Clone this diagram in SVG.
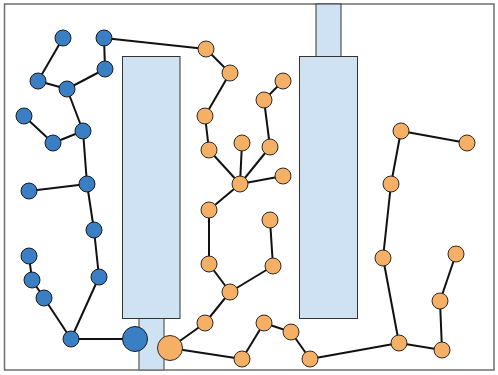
<svg xmlns="http://www.w3.org/2000/svg" width="498" height="375" viewBox="0 0 498 375">
<style>
.frame{fill:#fff;stroke:#6e6e6e;stroke-width:1.5}
.wall{fill:#cfe2f3;stroke:#333;stroke-width:1}
.wall2{fill:#cfe2f3;stroke:#777;stroke-width:1.5}
.e{stroke:#111;stroke-width:2;fill:none}
.b{fill:#3a7fc4;stroke:#1a1a1a;stroke-width:1}
.o{fill:#f5b066;stroke:#2a2a2a;stroke-width:1}
</style>
<rect class="frame" x="4.5" y="4" width="489.5" height="366"/>
<g id="walls">
<rect class="wall2" x="139" y="318" width="25" height="52"/>
<rect class="wall" x="122.5" y="56.5" width="57.5" height="262"/>
<rect class="wall" x="316" y="4" width="25" height="52.5"/>
<rect class="wall" x="299.5" y="56.5" width="58" height="262"/>
</g>
<g id="connectors" class="e">
<line x1="63" y1="38" x2="38" y2="81"/>
<line x1="38" y1="81" x2="67" y2="89"/>
<line x1="67" y1="89" x2="105" y2="69"/>
<line x1="105" y1="69" x2="104" y2="38"/>
<line x1="104" y1="38" x2="206" y2="49"/>
<line x1="67" y1="89" x2="83" y2="131"/>
<line x1="24" y1="116" x2="53" y2="143"/>
<line x1="53" y1="143" x2="83" y2="131"/>
<line x1="83" y1="131" x2="87" y2="184"/>
<line x1="87" y1="184" x2="29" y2="191"/>
<line x1="87" y1="184" x2="94" y2="230"/>
<line x1="94" y1="230" x2="99" y2="277"/>
<line x1="99" y1="277" x2="71" y2="339"/>
<line x1="29" y1="256" x2="32" y2="280"/>
<line x1="32" y1="280" x2="44" y2="298"/>
<line x1="44" y1="298" x2="71" y2="339"/>
<line x1="71" y1="339" x2="135" y2="339"/>
<line x1="206" y1="49" x2="230" y2="73"/>
<line x1="230" y1="73" x2="205" y2="116"/>
<line x1="205" y1="116" x2="209" y2="150"/>
<line x1="209" y1="150" x2="240" y2="184"/>
<line x1="242" y1="143" x2="240" y2="184"/>
<line x1="283" y1="81" x2="264" y2="100"/>
<line x1="264" y1="100" x2="270" y2="147"/>
<line x1="270" y1="147" x2="240" y2="184"/>
<line x1="283" y1="176" x2="240" y2="184"/>
<line x1="240" y1="184" x2="209" y2="210"/>
<line x1="209" y1="210" x2="209" y2="264"/>
<line x1="209" y1="264" x2="230" y2="292"/>
<line x1="270" y1="220" x2="273" y2="266"/>
<line x1="273" y1="266" x2="230" y2="292"/>
<line x1="230" y1="292" x2="205" y2="323"/>
<line x1="205" y1="323" x2="170" y2="348"/>
<line x1="170" y1="348" x2="242" y2="359"/>
<line x1="242" y1="359" x2="264" y2="323"/>
<line x1="264" y1="323" x2="291" y2="332"/>
<line x1="291" y1="332" x2="310" y2="359"/>
<line x1="310" y1="359" x2="399" y2="343"/>
<line x1="399" y1="343" x2="383" y2="258"/>
<line x1="383" y1="258" x2="391" y2="184"/>
<line x1="391" y1="184" x2="401" y2="131"/>
<line x1="401" y1="131" x2="467" y2="143"/>
<line x1="399" y1="343" x2="442" y2="350"/>
<line x1="442" y1="350" x2="440" y2="301"/>
<line x1="440" y1="301" x2="456" y2="254"/>
</g>
<g id="b1"><circle class="b" cx="63" cy="38" r="8"/></g>
<g id="b2"><circle class="b" cx="104" cy="38" r="8"/></g>
<g id="b3"><circle class="b" cx="105" cy="69" r="8"/></g>
<g id="b4"><circle class="b" cx="38" cy="81" r="8"/></g>
<g id="b5"><circle class="b" cx="67" cy="89" r="8"/></g>
<g id="b6"><circle class="b" cx="24" cy="116" r="8"/></g>
<g id="b7"><circle class="b" cx="53" cy="143" r="8"/></g>
<g id="b8"><circle class="b" cx="83" cy="131" r="8"/></g>
<g id="b9"><circle class="b" cx="87" cy="184" r="8"/></g>
<g id="b10"><circle class="b" cx="29" cy="191" r="8"/></g>
<g id="b11"><circle class="b" cx="94" cy="230" r="8"/></g>
<g id="b12"><circle class="b" cx="99" cy="277" r="8"/></g>
<g id="b13"><circle class="b" cx="29" cy="256" r="8"/></g>
<g id="b14"><circle class="b" cx="32" cy="280" r="8"/></g>
<g id="b15"><circle class="b" cx="44" cy="298" r="8"/></g>
<g id="b16"><circle class="b" cx="71" cy="339" r="8"/></g>
<g id="b17"><circle class="b" cx="135" cy="339" r="12.5"/></g>
<g id="o1"><circle class="o" cx="206" cy="49" r="8"/></g>
<g id="o2"><circle class="o" cx="230" cy="73" r="8"/></g>
<g id="o3"><circle class="o" cx="205" cy="116" r="8"/></g>
<g id="o4"><circle class="o" cx="209" cy="150" r="8"/></g>
<g id="o5"><circle class="o" cx="242" cy="143" r="8"/></g>
<g id="o6"><circle class="o" cx="283" cy="81" r="8"/></g>
<g id="o7"><circle class="o" cx="264" cy="100" r="8"/></g>
<g id="o8"><circle class="o" cx="270" cy="147" r="8"/></g>
<g id="o9"><circle class="o" cx="240" cy="184" r="8"/></g>
<g id="o10"><circle class="o" cx="283" cy="176" r="8"/></g>
<g id="o11"><circle class="o" cx="209" cy="210" r="8"/></g>
<g id="o12"><circle class="o" cx="209" cy="264" r="8"/></g>
<g id="o13"><circle class="o" cx="270" cy="220" r="8"/></g>
<g id="o14"><circle class="o" cx="273" cy="266" r="8"/></g>
<g id="o15"><circle class="o" cx="230" cy="292" r="8"/></g>
<g id="o16"><circle class="o" cx="205" cy="323" r="8"/></g>
<g id="o17"><circle class="o" cx="170" cy="348" r="12.5"/></g>
<g id="o18"><circle class="o" cx="242" cy="359" r="8"/></g>
<g id="o19"><circle class="o" cx="264" cy="323" r="8"/></g>
<g id="o20"><circle class="o" cx="291" cy="332" r="8"/></g>
<g id="o21"><circle class="o" cx="310" cy="359" r="8"/></g>
<g id="o22"><circle class="o" cx="399" cy="343" r="8"/></g>
<g id="o23"><circle class="o" cx="383" cy="258" r="8"/></g>
<g id="o24"><circle class="o" cx="391" cy="184" r="8"/></g>
<g id="o25"><circle class="o" cx="401" cy="131" r="8"/></g>
<g id="o26"><circle class="o" cx="467" cy="143" r="8"/></g>
<g id="o27"><circle class="o" cx="442" cy="350" r="8"/></g>
<g id="o28"><circle class="o" cx="440" cy="301" r="8"/></g>
<g id="o29"><circle class="o" cx="456" cy="254" r="8"/></g>
</svg>
